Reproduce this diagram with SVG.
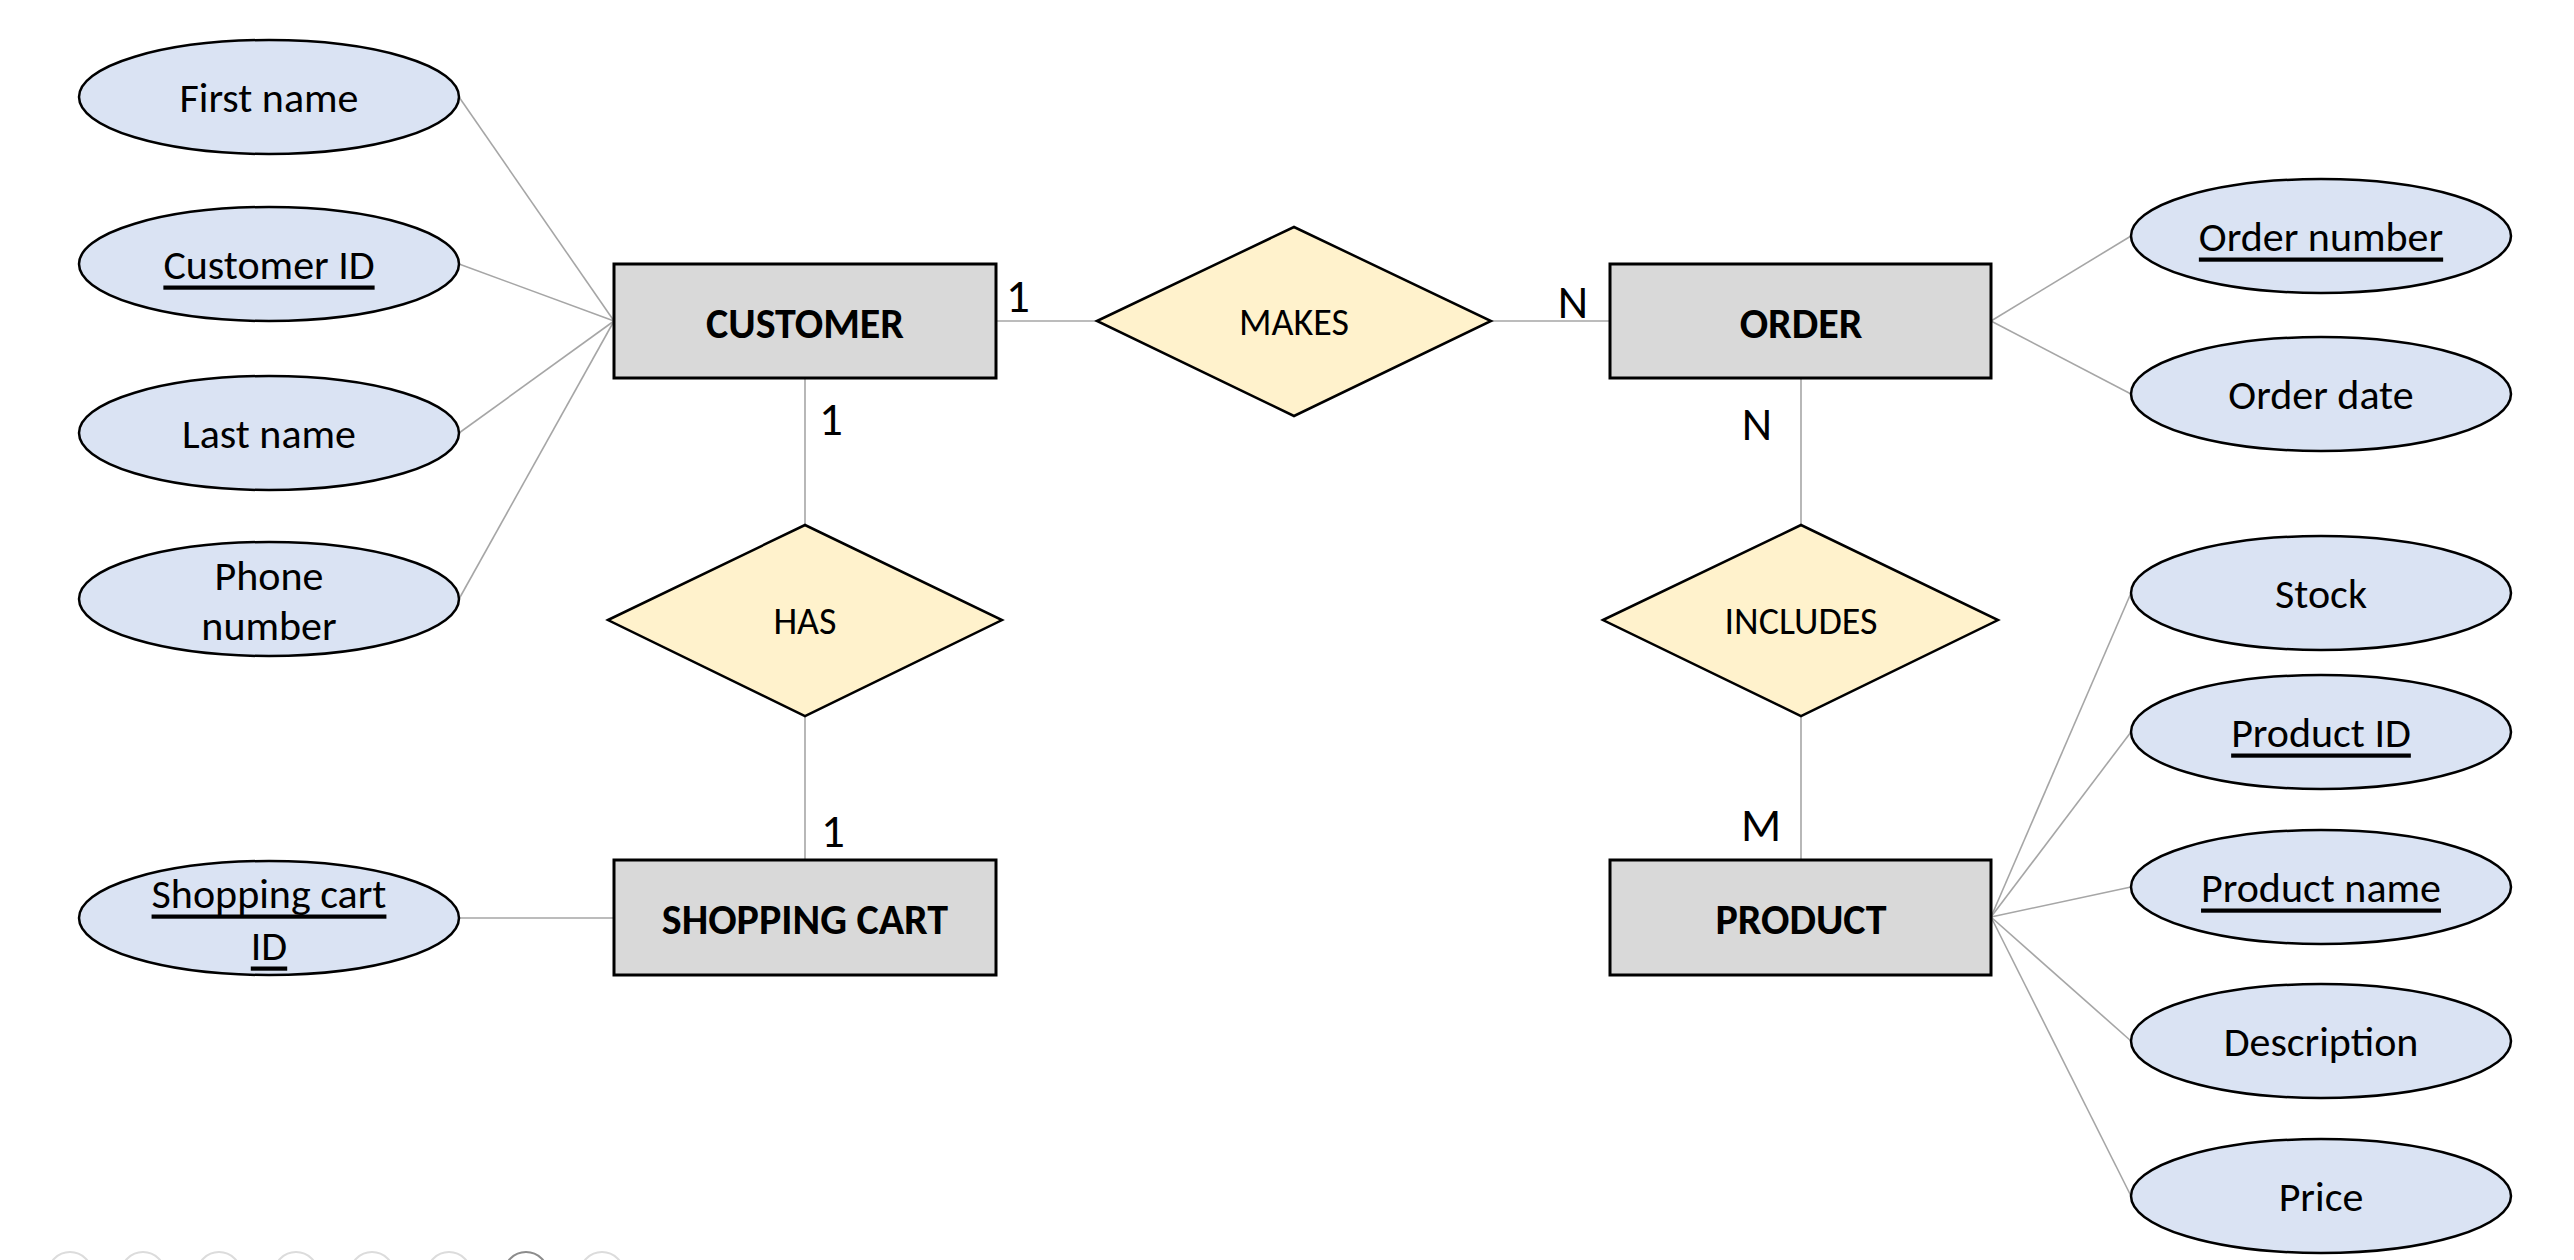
<svg xmlns="http://www.w3.org/2000/svg" width="2574" height="1260" viewBox="0 0 2574 1260">
<style>
text{font-family:Carlito,Lato,"Liberation Sans",sans-serif;fill:#000;text-anchor:middle;dominant-baseline:central}
.attr ellipse{fill:#dae3f3;stroke:#000;stroke-width:2.5}
.attr text{font-size:42px}
.ent rect{fill:#d9d9d9;stroke:#000;stroke-width:3}
.ent text{font-size:42px;font-weight:bold}
.rel polygon{fill:#fff2cc;stroke:#000;stroke-width:2.5}
.rel text{font-size:38px}
.key{text-decoration:underline}
#connectors line{stroke:#a6a6a6;stroke-width:1.6}
.card{font-size:47px}
.nav circle{fill:none;stroke:#dcdcdc;stroke-width:2}
</style>
<rect width="2574" height="1260" fill="#fff"/>
<g id="connectors">
<line x1="614" y1="321" x2="459" y2="97"/>
<line x1="614" y1="321" x2="459" y2="264"/>
<line x1="614" y1="321" x2="459" y2="433"/>
<line x1="614" y1="321" x2="459" y2="599"/>
<line x1="459" y1="918" x2="614" y2="918"/>
<line x1="996" y1="321" x2="1097" y2="321"/>
<line x1="1491" y1="321" x2="1610" y2="321"/>
<line x1="805" y1="378" x2="805" y2="525"/>
<line x1="805" y1="716" x2="805" y2="860"/>
<line x1="1801" y1="378" x2="1801" y2="525"/>
<line x1="1801" y1="716" x2="1801" y2="860"/>
<line x1="1991" y1="321" x2="2131" y2="236"/>
<line x1="1991" y1="321" x2="2131" y2="394"/>
<line x1="1991" y1="917" x2="2131" y2="593"/>
<line x1="1991" y1="917" x2="2131" y2="732"/>
<line x1="1991" y1="917" x2="2131" y2="887"/>
<line x1="1991" y1="917" x2="2131" y2="1041"/>
<line x1="1991" y1="917" x2="2131" y2="1196"/>
</g>
<g id="first-name" class="attr"><ellipse cx="269" cy="97" rx="190" ry="57"/><text x="269" y="97">First name</text></g>
<g id="customer-id" class="attr"><ellipse cx="269" cy="264" rx="190" ry="57"/><text x="269" y="264" class="key">Customer ID</text></g>
<g id="last-name" class="attr"><ellipse cx="269" cy="433" rx="190" ry="57"/><text x="269" y="433">Last name</text></g>
<g id="phone-number" class="attr"><ellipse cx="269" cy="599" rx="190" ry="57"/><text x="269" y="575">Phone</text><text x="269" y="625">number</text></g>
<g id="shopping-cart-id" class="attr"><ellipse cx="269" cy="918" rx="190" ry="57"/><text x="269" y="893" class="key">Shopping cart</text><text x="269" y="945" class="key">ID</text></g>
<g id="order-number" class="attr"><ellipse cx="2321" cy="236" rx="190" ry="57"/><text x="2321" y="236" class="key">Order number</text></g>
<g id="order-date" class="attr"><ellipse cx="2321" cy="394" rx="190" ry="57"/><text x="2321" y="394">Order date</text></g>
<g id="stock" class="attr"><ellipse cx="2321" cy="593" rx="190" ry="57"/><text x="2321" y="593">Stock</text></g>
<g id="product-id" class="attr"><ellipse cx="2321" cy="732" rx="190" ry="57"/><text x="2321" y="732" class="key">Product ID</text></g>
<g id="product-name" class="attr"><ellipse cx="2321" cy="887" rx="190" ry="57"/><text x="2321" y="887" class="key">Product name</text></g>
<g id="description" class="attr"><ellipse cx="2321" cy="1041" rx="190" ry="57"/><text x="2321" y="1041">Description</text></g>
<g id="price" class="attr"><ellipse cx="2321" cy="1196" rx="190" ry="57"/><text x="2321" y="1196">Price</text></g>
<g id="customer" class="ent"><rect x="614" y="264" width="382" height="114"/><text x="805" y="323">CUSTOMER</text></g>
<g id="order" class="ent"><rect x="1610" y="264" width="381" height="114"/><text x="1801" y="323">ORDER</text></g>
<g id="shopping-cart" class="ent"><rect x="614" y="860" width="382" height="115"/><text x="805" y="919">SHOPPING CART</text></g>
<g id="product" class="ent"><rect x="1610" y="860" width="381" height="115"/><text x="1801" y="919">PRODUCT</text></g>
<g id="makes" class="rel"><polygon points="1097,321 1294,227 1491,321 1294,416"/><text x="1294" y="322">MAKES</text></g>
<g id="has" class="rel"><polygon points="608,620 805,525 1002,620 805,716"/><text x="805" y="621">HAS</text></g>
<g id="includes" class="rel"><polygon points="1603,620 1801,525 1998,620 1801,716"/><text x="1801" y="621">INCLUDES</text></g>
<g id="cardinalities">
<text class="card" x="1018" y="296">1</text>
<text class="card" x="1573" y="302">N</text>
<text class="card" x="831" y="419">1</text>
<text class="card" x="833" y="831">1</text>
<text class="card" x="1757" y="424">N</text>
<text class="card" x="1761" y="825">M</text>
</g>
<g class="nav">
<circle cx="70" cy="1274" r="22"/>
<circle cx="143" cy="1274" r="22"/>
<circle cx="219" cy="1274" r="22"/>
<circle cx="296" cy="1274" r="22"/>
<circle cx="372" cy="1274" r="22"/>
<circle cx="449" cy="1274" r="22"/>
<circle cx="526" cy="1274" r="22" style="stroke:#8c8c8c"/>
<circle cx="602" cy="1274" r="22"/>
</g>
</svg>
